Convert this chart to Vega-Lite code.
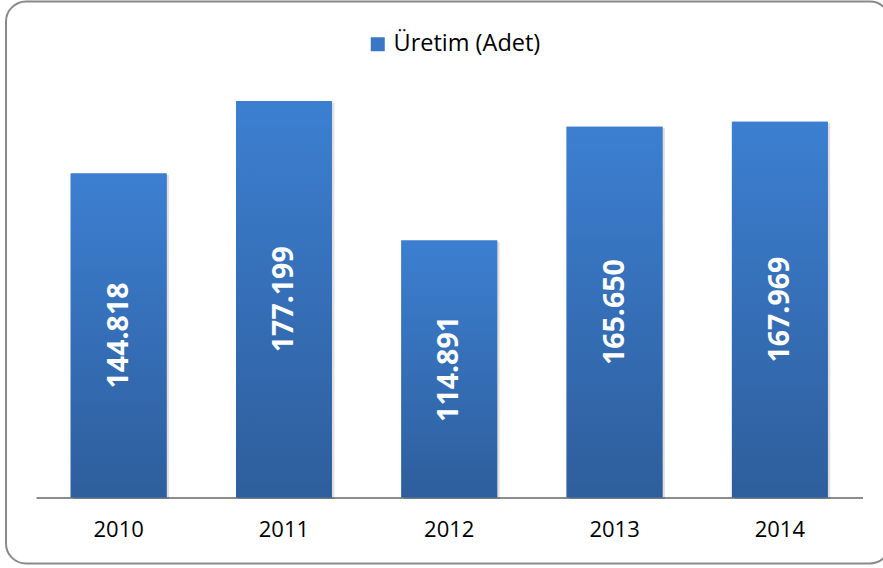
{
  "$schema": "https://vega.github.io/schema/vega-lite/v6.json",
  "width": 884,
  "height": 562,
  "autosize": "none",
  "padding": {"left": 6, "top": 1.5, "right": 0, "bottom": 3},
  "config": {
    "view": {"stroke": "#8a8a8a", "strokeWidth": 2, "cornerRadius": 20},
    "font": "Open Sans",
    "locale": {"number": {"decimal": ",", "thousands": ".", "grouping": [3], "currency": ["", " TL"]}}
  },
  "data": {
    "values": [
      {"year": "2010", "value": 144818},
      {"year": "2011", "value": 177199},
      {"year": "2012", "value": 114891},
      {"year": "2013", "value": 165650},
      {"year": "2014", "value": 167969}
    ]
  },
  "encoding": {
    "x": {
      "field": "year",
      "type": "ordinal",
      "scale": {"range": [30, 856.5], "paddingInner": 0.42, "paddingOuter": 0.21},
      "axis": {
        "title": null,
        "offset": -66,
        "labelAngle": 0,
        "ticks": false,
        "grid": false,
        "domainColor": "#8c8c8c",
        "domainWidth": 2,
        "labelFontSize": 22,
        "labelColor": "#000000",
        "labelPadding": 22
      }
    }
  },
  "layer": [
    {
      "mark": {"type": "bar", "fill": "#000000", "opacity": 0.12, "xOffset": 2.5, "yOffset": 1.5},
      "encoding": {
        "y": {"field": "value", "type": "quantitative", "scale": {"domain": [-29496, 221666], "nice": false, "zero": false}, "axis": null}
      }
    },
    {
      "mark": {"type": "bar"},
      "encoding": {
        "y": {"field": "value", "type": "quantitative"},
        "color": {
          "datum": "Üretim (Adet)",
          "type": "nominal",
          "scale": {"range": ["#3a76c4"]},
          "legend": {
            "title": null,
            "orient": "none",
            "legendX": 360,
            "legendY": 31,
            "symbolType": "square",
            "symbolSize": 196,
            "symbolStrokeWidth": 0,
            "labelFontSize": 23.5,
            "labelColor": "#000000",
            "labelFont": "Open Sans"
          }
        }
      }
    },
    {
      "mark": {
        "type": "bar",
        "color": {
          "gradient": "linear",
          "x1": 0, "y1": 0, "x2": 0, "y2": 1,
          "stops": [
            {"offset": 0, "color": "#3c7fd1"},
            {"offset": 1, "color": "#2e5e9c"}
          ]
        }
      },
      "encoding": {
        "y": {"field": "value", "type": "quantitative"}
      }
    },
    {
      "mark": {"type": "text", "angle": 270, "fontWeight": "bold", "fontSize": 28.5, "color": "#ffffff", "baseline": "middle", "align": "center"},
      "encoding": {
        "y": {"field": "value", "type": "quantitative", "stack": "zero", "bandPosition": 0.5},
        "text": {"field": "value", "type": "quantitative", "format": ",d"}
      }
    }
  ]
}
